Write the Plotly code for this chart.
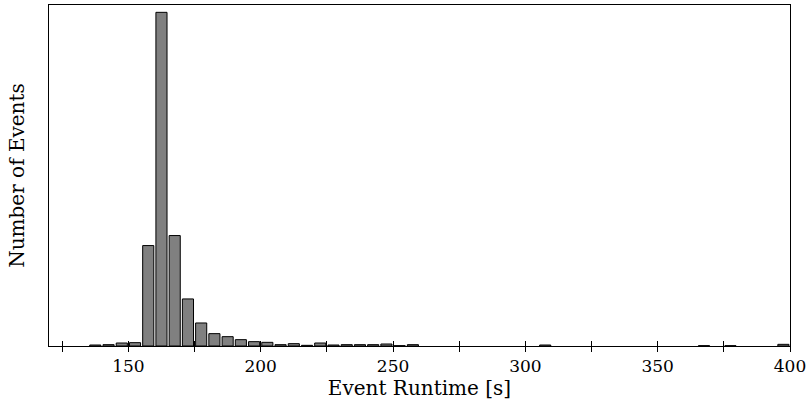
import plotly.graph_objects as go

bin_starts = [135, 140, 145, 150, 155, 160, 165, 170, 175, 180, 185, 190, 195, 200,
              205, 210, 215, 220, 225, 230, 235, 240, 245, 250, 255,
              305, 365, 375, 395]
counts = [3, 4, 9, 10, 301, 1000, 331, 141, 69, 37, 28, 19, 13, 11,
          4, 7, 2, 9, 3, 4, 4, 4, 6, 1, 4,
          3, 1, 1, 5]
bin_width = 5
tick_vals = list(range(125, 401, 25))
tick_text = [str(v) if v % 50 == 0 else "" for v in tick_vals]

centers = [s + bin_width / 2 for s in bin_starts]

font_family = "DejaVu Serif"

fig = go.Figure()
fig.add_trace(go.Bar(
    x=centers, y=counts, width=bin_width * 0.84,
    marker=dict(color="#808080", line=dict(color="black", width=1)),
    showlegend=False,
))

fig.update_layout(
    width=811, height=412,
    margin=dict(l=49, r=21, t=5, b=66),
    paper_bgcolor="white", plot_bgcolor="white",
    font=dict(family=font_family, color="black"),
    xaxis=dict(
        range=[120, 400], tickvals=tick_vals, ticktext=tick_text,
        ticks="outside", ticklen=5, tickwidth=1, tickcolor="black",
        showline=True, linecolor="black", linewidth=1, mirror=True,
        showgrid=False, zeroline=False,
        tickfont=dict(size=17, family=font_family),
        title=dict(text="Event Runtime [s]", font=dict(size=20, family=font_family), standoff=5),
    ),
    xaxis2=dict(
        range=[120, 400], tickvals=tick_vals, ticktext=["" for _ in tick_vals],
        ticks="inside", ticklen=5, tickwidth=1, tickcolor="black",
        overlaying="x", anchor="y", side="bottom", showgrid=False, zeroline=False,
        showline=False,
    ),
    yaxis=dict(
        range=[0, 1022], showticklabels=False, ticks="",
        showline=True, linecolor="black", linewidth=1, mirror=True,
        showgrid=False, zeroline=False,
        title=dict(text="Number of Events", font=dict(size=20, family=font_family), standoff=18),
    ),
)
fig.add_trace(go.Scatter(x=[120], y=[0], xaxis="x2", mode="markers",
                         marker=dict(opacity=0), showlegend=False, hoverinfo="skip"))

fig.write_html("out.html")
